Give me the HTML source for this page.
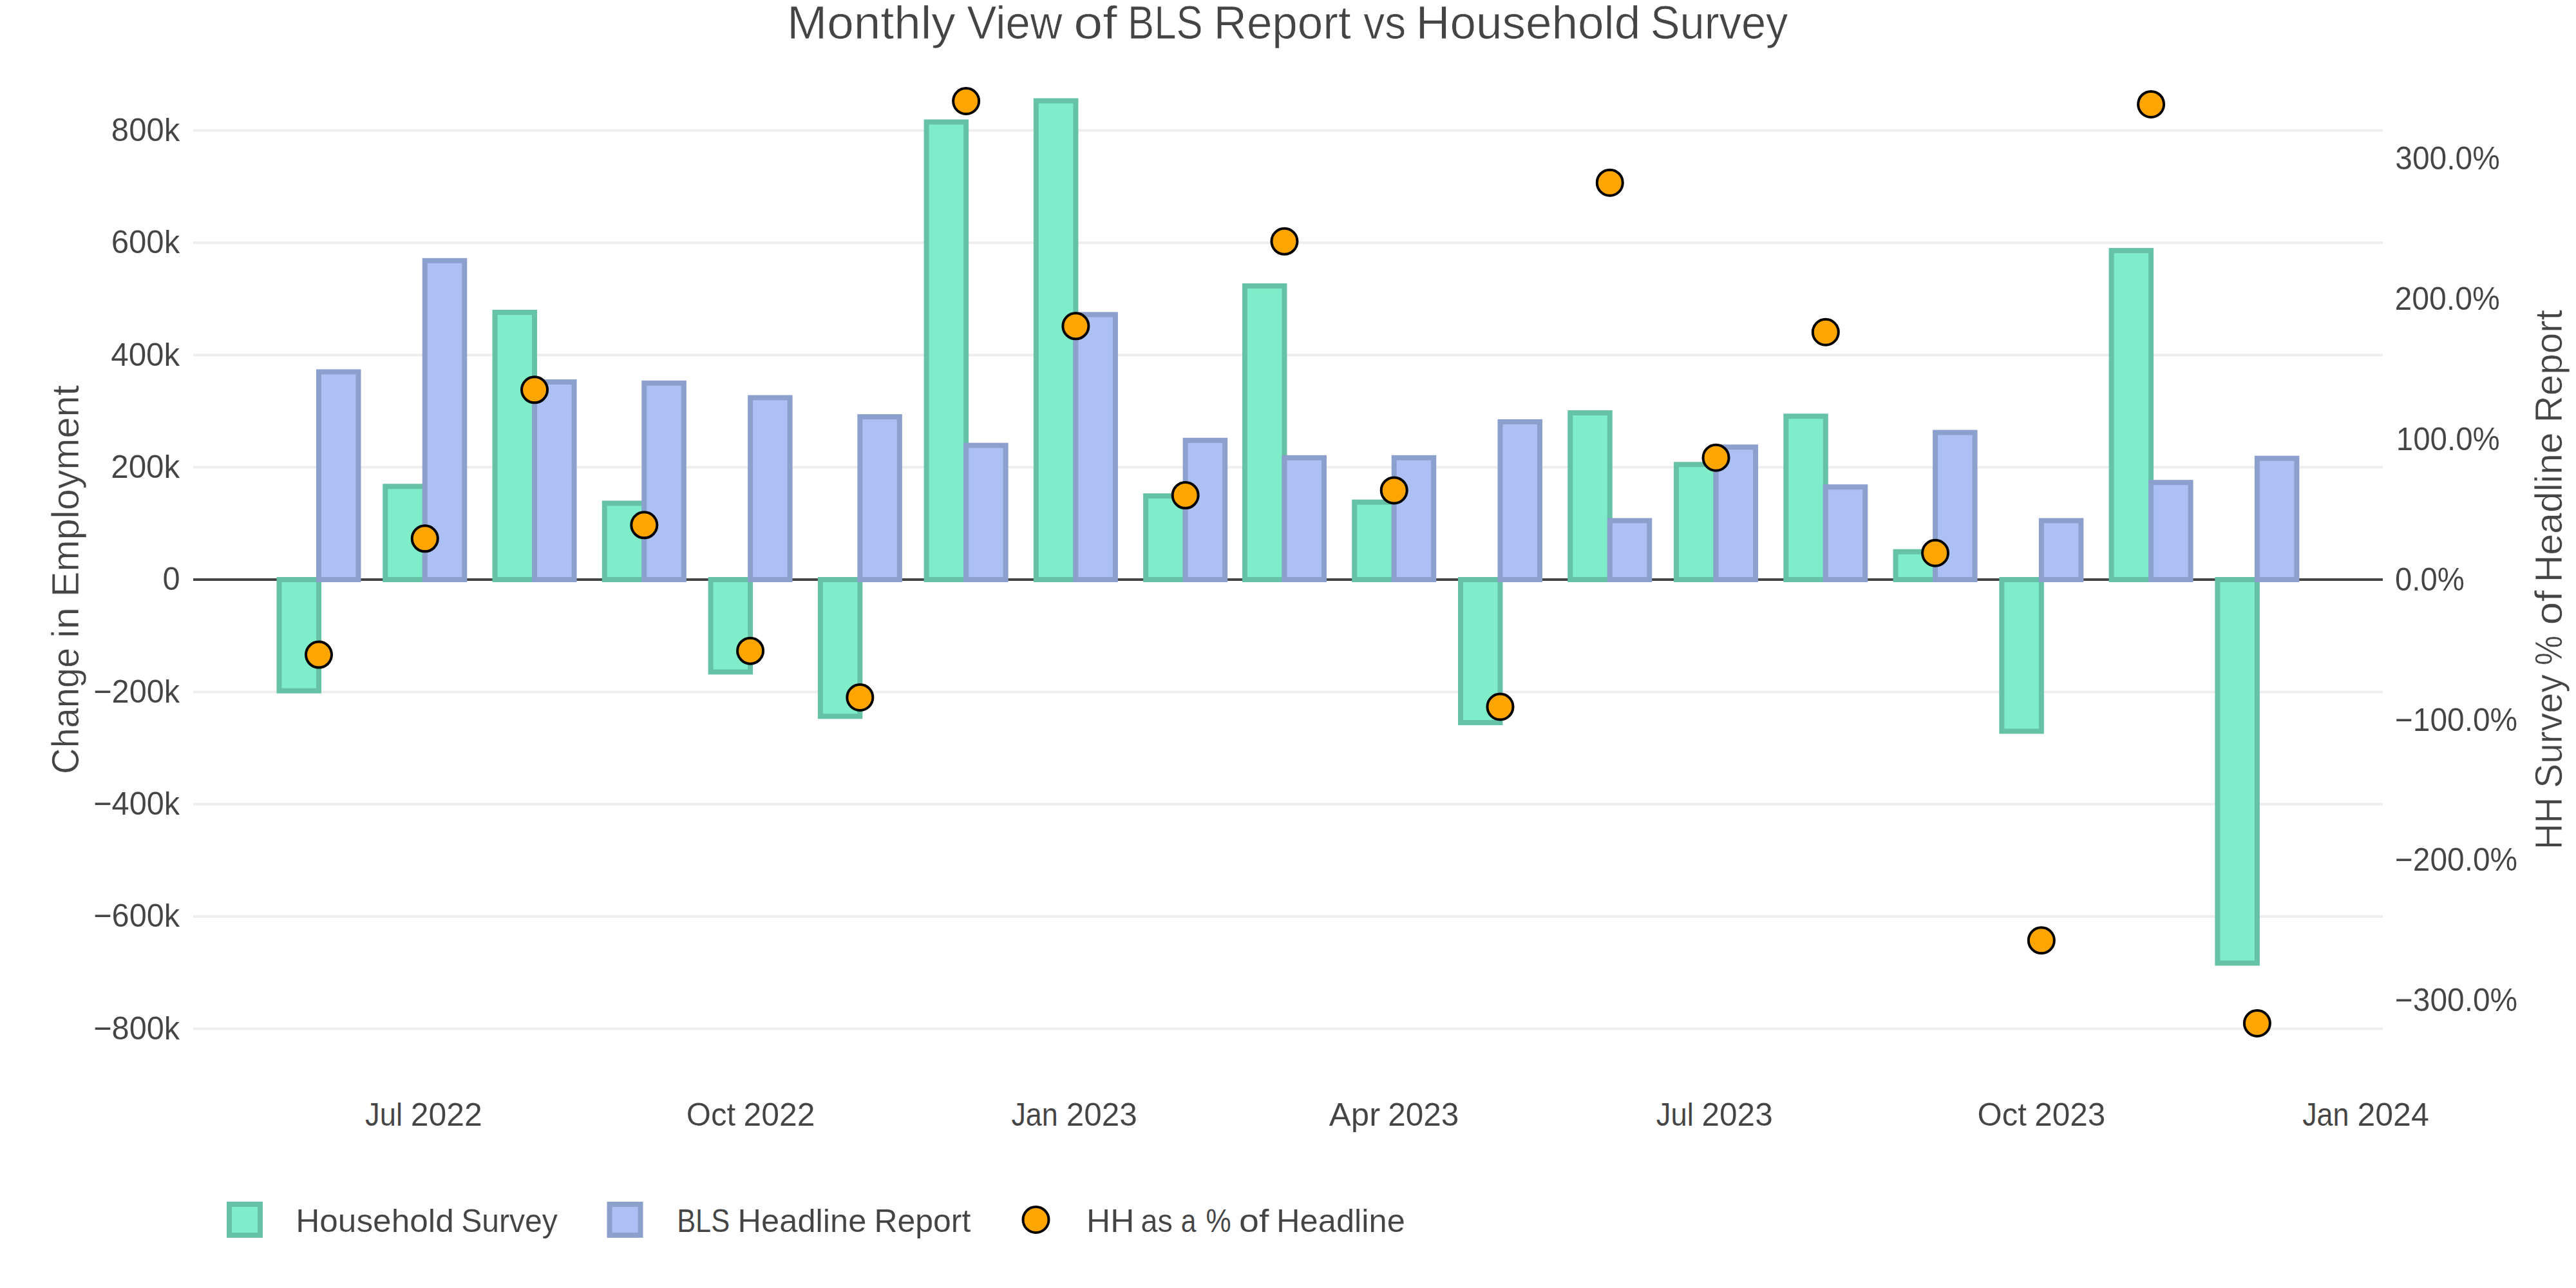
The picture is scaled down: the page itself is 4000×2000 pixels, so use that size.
<!DOCTYPE html>
<html lang="en"><head><meta charset="utf-8"><title>Monthly View of BLS Report vs Household Survey</title>
<style>html,body{margin:0;padding:0;background:#fff;}body{width:4000px;height:2000px;overflow:hidden;}svg{display:block;}text{font-family:'Liberation Sans', Arial, sans-serif;fill:#444444;white-space:pre;stroke:#ffffff;stroke-width:0.010em;}text.k{stroke-width:0.002em;}</style></head><body>
<svg width="4000" height="2000" viewBox="0 0 4000 2000">
<rect x="0" y="0" width="4000" height="2000" fill="#ffffff"/>
<g stroke="#eeeeee" stroke-width="4">
<line x1="300" x2="3700" y1="202.50" y2="202.50"/>
<line x1="300" x2="3700" y1="376.88" y2="376.88"/>
<line x1="300" x2="3700" y1="551.25" y2="551.25"/>
<line x1="300" x2="3700" y1="725.62" y2="725.62"/>
<line x1="300" x2="3700" y1="1074.38" y2="1074.38"/>
<line x1="300" x2="3700" y1="1248.75" y2="1248.75"/>
<line x1="300" x2="3700" y1="1423.12" y2="1423.12"/>
<line x1="300" x2="3700" y1="1597.50" y2="1597.50"/>
</g>
<line x1="300" x2="3700" y1="900.0" y2="900.0" stroke="#444444" stroke-width="4"/>
<g fill="#7fedc9" stroke="#66c2a7" stroke-width="8" stroke-linejoin="miter">
<rect x="433.50" y="900.00" width="61.50" height="172.63"/>
<rect x="598.27" y="755.27" width="61.50" height="144.73"/>
<rect x="768.54" y="484.99" width="61.50" height="415.01"/>
<rect x="938.81" y="781.42" width="61.50" height="118.58"/>
<rect x="1103.59" y="900.00" width="61.50" height="143.42"/>
<rect x="1273.85" y="900.00" width="61.50" height="212.30"/>
<rect x="1438.63" y="189.42" width="61.50" height="710.58"/>
<rect x="1608.89" y="156.55" width="61.50" height="743.45"/>
<rect x="1779.16" y="770.09" width="61.50" height="129.91"/>
<rect x="1932.95" y="444.01" width="61.50" height="455.99"/>
<rect x="2103.22" y="779.68" width="61.50" height="120.32"/>
<rect x="2267.99" y="900.00" width="61.50" height="222.07"/>
<rect x="2438.26" y="641.05" width="61.50" height="258.95"/>
<rect x="2603.04" y="721.27" width="61.50" height="178.73"/>
<rect x="2773.30" y="646.28" width="61.50" height="253.72"/>
<rect x="2943.57" y="856.75" width="61.50" height="43.25"/>
<rect x="3108.35" y="900.00" width="61.50" height="235.41"/>
<rect x="3278.61" y="389.08" width="61.50" height="510.92"/>
<rect x="3443.39" y="900.00" width="61.50" height="595.49"/>
</g>
<g fill="#acc0f5" stroke="#8ca0cd" stroke-width="8" stroke-linejoin="miter">
<rect x="495.00" y="577.41" width="61.50" height="322.59"/>
<rect x="659.77" y="404.78" width="61.50" height="495.22"/>
<rect x="830.04" y="593.10" width="61.50" height="306.90"/>
<rect x="1000.31" y="594.84" width="61.50" height="305.16"/>
<rect x="1165.09" y="617.51" width="61.50" height="282.49"/>
<rect x="1335.35" y="647.16" width="61.50" height="252.84"/>
<rect x="1500.13" y="691.62" width="61.50" height="208.38"/>
<rect x="1670.39" y="488.48" width="61.50" height="411.52"/>
<rect x="1840.66" y="683.77" width="61.50" height="216.23"/>
<rect x="1994.45" y="710.80" width="61.50" height="189.20"/>
<rect x="2164.72" y="710.80" width="61.50" height="189.20"/>
<rect x="2329.49" y="655.00" width="61.50" height="245.00"/>
<rect x="2499.76" y="808.45" width="61.50" height="91.55"/>
<rect x="2664.54" y="694.24" width="61.50" height="205.76"/>
<rect x="2834.80" y="756.14" width="61.50" height="143.86"/>
<rect x="3005.07" y="671.57" width="61.50" height="228.43"/>
<rect x="3169.85" y="808.45" width="61.50" height="91.55"/>
<rect x="3340.11" y="749.17" width="61.50" height="150.83"/>
<rect x="3504.89" y="711.67" width="61.50" height="188.33"/>
</g>
<g fill="#ffa500" stroke="#000000" stroke-width="4">
<circle cx="495.00" cy="1016.61" r="20"/>
<circle cx="659.77" cy="836.32" r="20"/>
<circle cx="830.04" cy="605.34" r="20"/>
<circle cx="1000.31" cy="815.33" r="20"/>
<circle cx="1165.09" cy="1010.63" r="20"/>
<circle cx="1335.35" cy="1082.96" r="20"/>
<circle cx="1500.13" cy="156.95" r="20"/>
<circle cx="1670.39" cy="506.35" r="20"/>
<circle cx="1840.66" cy="769.08" r="20"/>
<circle cx="1994.45" cy="374.83" r="20"/>
<circle cx="2164.72" cy="761.43" r="20"/>
<circle cx="2329.49" cy="1097.51" r="20"/>
<circle cx="2499.76" cy="283.65" r="20"/>
<circle cx="2664.54" cy="710.72" r="20"/>
<circle cx="2834.80" cy="515.70" r="20"/>
<circle cx="3005.07" cy="858.75" r="20"/>
<circle cx="3169.85" cy="1460.31" r="20"/>
<circle cx="3340.11" cy="161.91" r="20"/>
<circle cx="3504.89" cy="1589.01" r="20"/>
</g>
<text class="t" y="60.2" font-size="71.40"><tspan x="1222.09" textLength="261.64" lengthAdjust="spacingAndGlyphs">Monthly</tspan> <tspan x="1501.48" textLength="148.07" lengthAdjust="spacingAndGlyphs">View</tspan> <tspan x="1667.34" textLength="67.56" lengthAdjust="spacingAndGlyphs">of</tspan> <tspan x="1751.06" textLength="116.74" lengthAdjust="spacingAndGlyphs">BLS</tspan> <tspan x="1884.60" textLength="213.14" lengthAdjust="spacingAndGlyphs">Report</tspan> <tspan x="2117.31" textLength="65.75" lengthAdjust="spacingAndGlyphs">vs</tspan> <tspan x="2198.85" textLength="348.32" lengthAdjust="spacingAndGlyphs">Household</tspan> <tspan x="2562.72" textLength="213.68" lengthAdjust="spacingAndGlyphs">Survey</tspan></text>
<text class="k" x="172.85" y="218.8" font-size="50.40" textLength="106.44" lengthAdjust="spacingAndGlyphs">800k</text>
<text class="k" x="172.68" y="393.2" font-size="50.40" textLength="106.61" lengthAdjust="spacingAndGlyphs">600k</text>
<text class="k" x="172.21" y="567.5" font-size="50.40" textLength="107.07" lengthAdjust="spacingAndGlyphs">400k</text>
<text class="k" x="172.16" y="741.9" font-size="50.40" textLength="107.12" lengthAdjust="spacingAndGlyphs">200k</text>
<text class="k" x="252.42" y="916.3" font-size="50.40" textLength="27.14" lengthAdjust="spacingAndGlyphs">0</text>
<text class="k" x="145.15" y="1090.7" font-size="50.40" textLength="134.05" lengthAdjust="spacingAndGlyphs">−200k</text>
<text class="k" x="145.15" y="1265.0" font-size="50.40" textLength="134.05" lengthAdjust="spacingAndGlyphs">−400k</text>
<text class="k" x="145.15" y="1439.4" font-size="50.40" textLength="134.05" lengthAdjust="spacingAndGlyphs">−600k</text>
<text class="k" x="145.15" y="1613.8" font-size="50.40" textLength="134.05" lengthAdjust="spacingAndGlyphs">−800k</text>
<text class="k" x="3719.22" y="262.9" font-size="50.40" textLength="162.57" lengthAdjust="spacingAndGlyphs">300.0%</text>
<text class="k" x="3718.41" y="480.8" font-size="50.40" textLength="163.38" lengthAdjust="spacingAndGlyphs">200.0%</text>
<text class="k" x="3720.75" y="698.7" font-size="50.40" textLength="161.02" lengthAdjust="spacingAndGlyphs">100.0%</text>
<text class="k" x="3718.92" y="916.6" font-size="50.40" textLength="107.92" lengthAdjust="spacingAndGlyphs">0.0%</text>
<text class="k" x="3718.82" y="1134.5" font-size="50.40" textLength="190.32" lengthAdjust="spacingAndGlyphs">−100.0%</text>
<text class="k" x="3718.82" y="1352.4" font-size="50.40" textLength="190.32" lengthAdjust="spacingAndGlyphs">−200.0%</text>
<text class="k" x="3718.82" y="1570.3" font-size="50.40" textLength="190.32" lengthAdjust="spacingAndGlyphs">−300.0%</text>
<text class="k" y="1748.0" font-size="50.40"><tspan x="567.06" textLength="57.96" lengthAdjust="spacingAndGlyphs">Jul</tspan> <tspan x="637.80" textLength="111.00" lengthAdjust="spacingAndGlyphs">2022</tspan></text>
<text class="k" y="1748.0" font-size="50.40"><tspan x="1065.65" textLength="76.52" lengthAdjust="spacingAndGlyphs">Oct</tspan> <tspan x="1154.54" textLength="111.00" lengthAdjust="spacingAndGlyphs">2022</tspan></text>
<text class="k" y="1748.0" font-size="50.40"><tspan x="1570.41" textLength="72.44" lengthAdjust="spacingAndGlyphs">Jan</tspan> <tspan x="1655.72" textLength="110.09" lengthAdjust="spacingAndGlyphs">2023</tspan></text>
<text class="k" y="1748.0" font-size="50.40"><tspan x="2063.82" textLength="79.36" lengthAdjust="spacingAndGlyphs">Apr</tspan> <tspan x="2155.25" textLength="110.09" lengthAdjust="spacingAndGlyphs">2023</tspan></text>
<text class="k" y="1748.0" font-size="50.40"><tspan x="2571.82" textLength="57.96" lengthAdjust="spacingAndGlyphs">Jul</tspan> <tspan x="2642.58" textLength="110.09" lengthAdjust="spacingAndGlyphs">2023</tspan></text>
<text class="k" y="1748.0" font-size="50.40"><tspan x="3070.41" textLength="76.52" lengthAdjust="spacingAndGlyphs">Oct</tspan> <tspan x="3159.32" textLength="110.09" lengthAdjust="spacingAndGlyphs">2023</tspan></text>
<text class="k" y="1748.0" font-size="50.40"><tspan x="3575.17" textLength="72.44" lengthAdjust="spacingAndGlyphs">Jan</tspan> <tspan x="3660.46" textLength="111.32" lengthAdjust="spacingAndGlyphs">2024</tspan></text>
<text class="t" transform="translate(121.6,1300.0) rotate(-90)" font-size="59.08"><tspan x="97.96" textLength="196.21" lengthAdjust="spacingAndGlyphs">Change</tspan> <tspan x="309.02" textLength="48.15" lengthAdjust="spacingAndGlyphs">in</tspan> <tspan x="372.92" textLength="328.94" lengthAdjust="spacingAndGlyphs">Employment</tspan></text>
<text class="t" transform="translate(3978.0,1400.0) rotate(-90)" font-size="59.08"><tspan x="80.76" textLength="81.38" lengthAdjust="spacingAndGlyphs">HH</tspan> <tspan x="176.37" textLength="176.36" lengthAdjust="spacingAndGlyphs">Survey</tspan> <tspan x="366.94" textLength="46.18" lengthAdjust="spacingAndGlyphs">%</tspan> <tspan x="429.57" textLength="53.96" lengthAdjust="spacingAndGlyphs">of</tspan> <tspan x="495.64" textLength="232.98" lengthAdjust="spacingAndGlyphs">Headline</tspan> <tspan x="743.58" textLength="175.47" lengthAdjust="spacingAndGlyphs">Report</tspan></text>
<rect x="356" y="1870" width="48" height="48" fill="#7fedc9" stroke="#66c2a7" stroke-width="8"/>
<text class="k" y="1913.0" font-size="49.92"><tspan x="459.20" textLength="245.56" lengthAdjust="spacingAndGlyphs">Household</tspan> <tspan x="716.18" textLength="149.67" lengthAdjust="spacingAndGlyphs">Survey</tspan></text>
<rect x="946.5" y="1870" width="48" height="48" fill="#acc0f5" stroke="#8ca0cd" stroke-width="8"/>
<text class="k" y="1913.0" font-size="49.92"><tspan x="1051.16" textLength="82.07" lengthAdjust="spacingAndGlyphs">BLS</tspan> <tspan x="1145.56" textLength="199.76" lengthAdjust="spacingAndGlyphs">Headline</tspan> <tspan x="1357.42" textLength="149.96" lengthAdjust="spacingAndGlyphs">Report</tspan></text>
<circle cx="1608.5" cy="1894" r="20" fill="#ffa500" stroke="#000" stroke-width="4"/>
<text class="k" y="1913.0" font-size="49.92"><tspan x="1686.99" textLength="74.32" lengthAdjust="spacingAndGlyphs">HH</tspan> <tspan x="1771.55" textLength="49.49" lengthAdjust="spacingAndGlyphs">as</tspan> <tspan x="1833.83" textLength="23.71" lengthAdjust="spacingAndGlyphs">a</tspan> <tspan x="1872.60" textLength="39.17" lengthAdjust="spacingAndGlyphs">%</tspan> <tspan x="1923.98" textLength="46.40" lengthAdjust="spacingAndGlyphs">of</tspan> <tspan x="1982.06" textLength="199.76" lengthAdjust="spacingAndGlyphs">Headline</tspan></text>
</svg></body></html>
